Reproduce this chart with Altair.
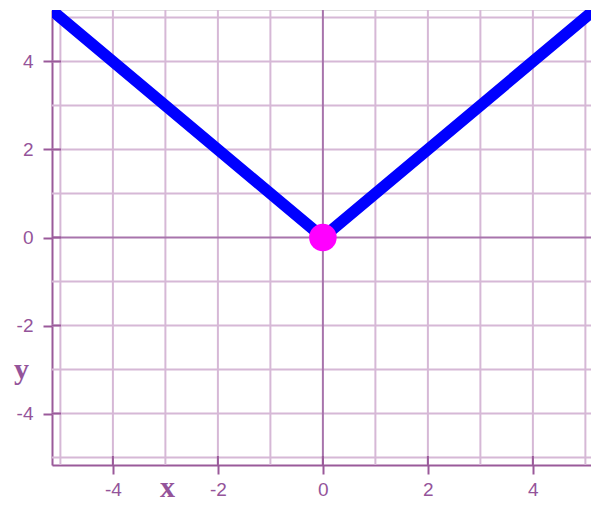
import altair as alt
import pandas as pd

# data
line_x = [-5.3, 0.0, 5.3]
line_y = [5.3, 0.0, 5.3]
point_x = [0.0]
point_y = [0.0]
grid_vals = [-5, -4, -3, -2, -1, 1, 2, 3, 4, 5]
zero_vals = [0]
tick_vals = [-4, -2, 0, 2, 4]

W, H = 539, 455
XDOM = [-5.16, 5.107]
YDOM = [-5.17, 5.17]

PURPLE = "#9a5a9a"
LABEL = "#94549a"
GRID = "#d6b8d6"
ZERO = "#a874ac"

xs = alt.Scale(domain=XDOM, nice=False, zero=False)
ys = alt.Scale(domain=YDOM, nice=False, zero=False)

axis_common = dict(
    values=tick_vals, grid=False, domainColor=PURPLE, domainWidth=2,
    tickColor=PURPLE, tickWidth=2, tickSize=9,
    labelFont="Liberation Sans", labelFontSize=19, labelColor=LABEL,
    labelExpr="'' + datum.value",
    titleFont="Liberation Serif", titleFontSize=30, titleFontWeight="bold",
    titleColor=LABEL, titleBaseline="alphabetic", titleAlign="center",
)
XAX = alt.Axis(title="x", titleX=115, titleY=31, labelPadding=6, **axis_common)
YAX = alt.Axis(title="y", titleAngle=0, titleX=-31, titleY=368, labelPadding=10,
               **axis_common)

line_df = pd.DataFrame({"x": line_x, "y": line_y})
pt_df = pd.DataFrame({"x": point_x, "y": point_y})
grid_df = pd.DataFrame({"v": grid_vals})
zero_df = pd.DataFrame({"v": zero_vals})
tick_df = pd.DataFrame({"v": tick_vals})

vgrid = alt.Chart(grid_df).mark_rule(color=GRID, strokeWidth=2).encode(
    x=alt.X("v:Q", scale=xs, axis=XAX))
hgrid = alt.Chart(grid_df).mark_rule(color=GRID, strokeWidth=2).encode(
    y=alt.Y("v:Q", scale=ys, axis=YAX))
vzero = alt.Chart(zero_df).mark_rule(color=ZERO, strokeWidth=2).encode(
    x=alt.X("v:Q", scale=xs, axis=XAX))
hzero = alt.Chart(zero_df).mark_rule(color=ZERO, strokeWidth=2).encode(
    y=alt.Y("v:Q", scale=ys, axis=YAX))

ytick_in = alt.Chart(tick_df).mark_rule(color=PURPLE, strokeWidth=2).encode(
    y=alt.Y("v:Q", scale=ys, axis=YAX), x=alt.value(0), x2=alt.value(9))
xtick_in = alt.Chart(tick_df).mark_rule(color=PURPLE, strokeWidth=2).encode(
    x=alt.X("v:Q", scale=xs, axis=XAX), y=alt.value(H), y2=alt.value(H - 9))

line = alt.Chart(line_df).mark_line(color="#0000ff", strokeWidth=11.5, clip=True,
                                    strokeCap="round").encode(
    x=alt.X("x:Q", scale=xs, axis=XAX),
    y=alt.Y("y:Q", scale=ys, axis=YAX),
)

pt = alt.Chart(pt_df).mark_point(filled=True, shape="circle", size=760,
                                 color="#ff00ff", opacity=1).encode(
    x=alt.X("x:Q", scale=xs, axis=XAX), y=alt.Y("y:Q", scale=ys, axis=YAX))

chart = alt.layer(vgrid, hgrid, vzero, hzero, ytick_in, xtick_in, line, pt).properties(
    width=W, height=H,
    autosize=alt.AutoSizeParams(type="none"),
    padding={"left": 44, "top": 2, "right": 0, "bottom": 38},
).configure_view(stroke=None).configure(background="white")

chart.save("out.html", embed_options={"renderer": "svg", "actions": False})
